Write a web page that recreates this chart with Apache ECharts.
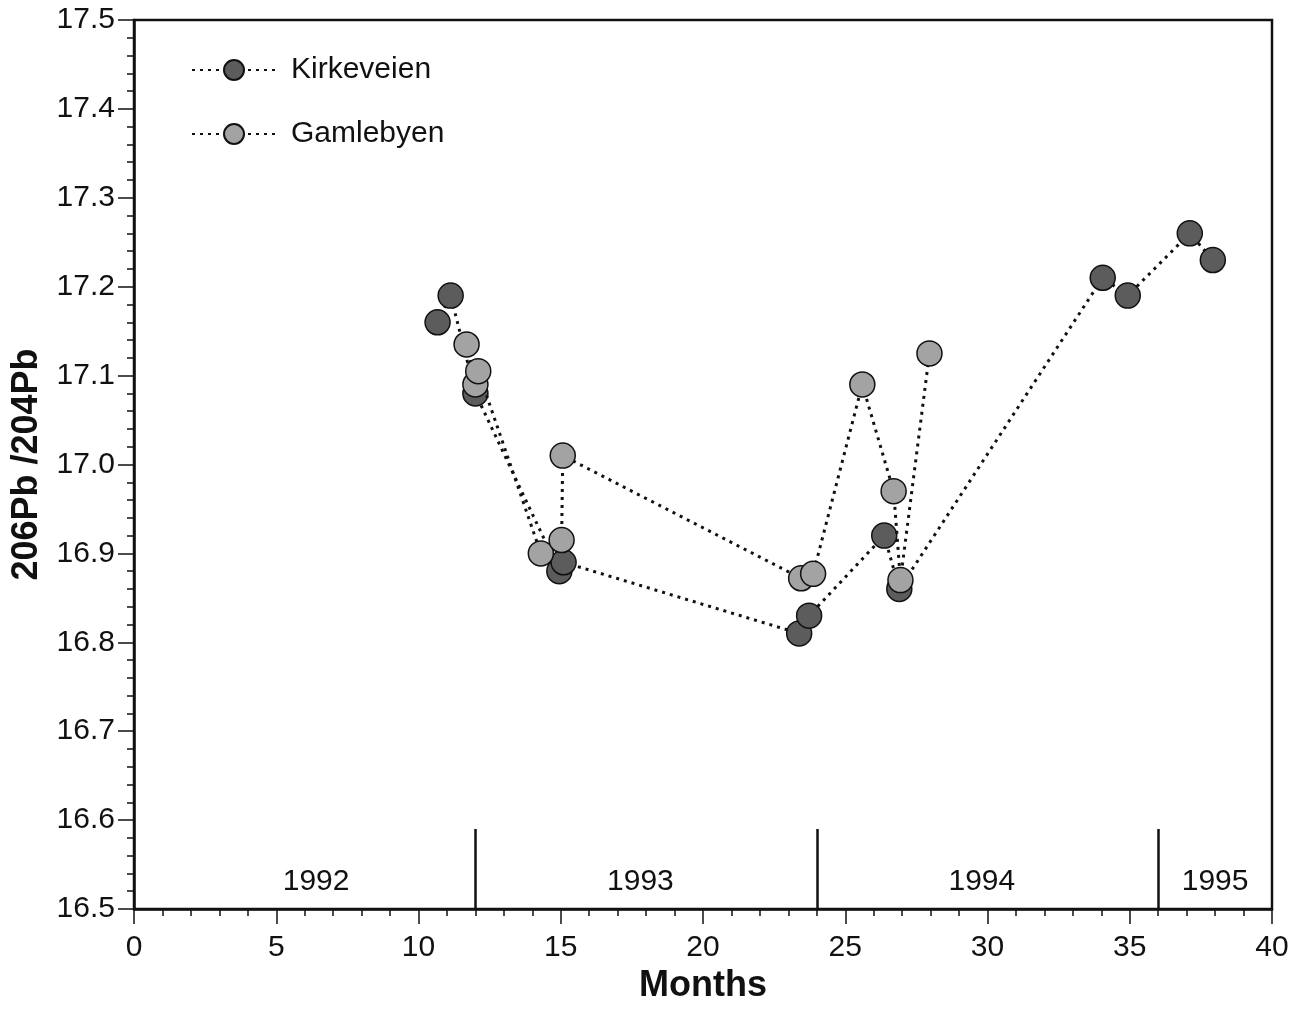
<!DOCTYPE html>
<html>
<head>
<meta charset="utf-8">
<script src="https://cdn.jsdelivr.net/npm/echarts@6/dist/echarts.min.js"></script>
<style>
  html, body { margin: 0; padding: 0; background: #fff; }
  #chart { width: 1298px; height: 1009px; }
</style>
</head>
<body>
<div id="chart"></div>
<script>
// ======================
// DATA
// ======================

const kirkeveienMonths = [10.67, 11.13, 12.0, 14.95, 15.1, 23.38, 23.73, 26.37, 26.9, 34.05, 34.93, 37.11, 37.92];
const kirkeveienRatio  = [17.16, 17.19, 17.08, 16.88, 16.89, 16.81, 16.83, 16.92, 16.86, 17.21, 17.19, 17.26, 17.23];

const gamlebyenMonths = [11.69, 12.0, 12.1, 14.3, 15.03, 15.07, 23.45, 23.87, 25.6, 26.7, 26.94, 27.96];
const gamlebyenRatio  = [17.135, 17.09, 17.105, 16.90, 16.915, 17.01, 16.872, 16.877, 17.09, 16.97, 16.87, 17.125];

const yearLabels    = ['1992', '1993', '1994', '1995'];
const yearLabelX    = [6.4, 17.8, 29.8, 38.0];
const yearDividers  = [12, 24, 36];

const FONT = 'Liberation Sans, Arial, Helvetica, sans-serif';

// ======================
// BUILD
// ======================

const zip = (xs, ys) => xs.map((x, i) => [x, ys[i]]);

const pointSeries = (name, xs, ys, fill) => ({
    name: name,
    type: 'line',
    data: zip(xs, ys),
    symbol: 'circle',
    symbolSize: 25,
    showSymbol: true,
    animation: false,
    itemStyle: { color: fill, borderColor: '#111', borderWidth: 1.5 },
    lineStyle: { color: '#111', width: 3, type: [3, 5] },
    z: name === 'Gamlebyen' ? 3 : 2
});

const chart = echarts.init(document.getElementById('chart'), null, { renderer: 'canvas' });

chart.setOption({
    backgroundColor: '#fff',
    animation: false,
    grid: {
        left: 134, top: 20, right: 26, bottom: 98,
        show: true, borderColor: '#111', borderWidth: 2.5
    },
    legend: {
        orient: 'vertical',
        left: 186, top: 50,
        itemWidth: 84, itemHeight: 25, itemGap: 34,
        data: ['Kirkeveien', 'Gamlebyen'],
        textStyle: { fontFamily: FONT, fontSize: 30, lineHeight: 25, color: '#111', padding: [0, 0, 0, 10] }
    },
    xAxis: {
        type: 'value',
        min: 0, max: 40, interval: 5,
        name: 'Months',
        nameLocation: 'middle',
        nameGap: 59,
        nameTextStyle: { fontFamily: FONT, fontSize: 36, fontWeight: 'bold', color: '#111' },
        axisLine: { lineStyle: { color: '#111', width: 2.5 } },
        axisTick: { length: 15, lineStyle: { color: '#111', width: 1.5 } },
        minorTick: { show: true, splitNumber: 5, length: 7, lineStyle: { color: '#111', width: 1.5 } },
        splitLine: { show: false },
        axisLabel: { fontFamily: FONT, fontSize: 30, color: '#111', margin: 24 }
    },
    yAxis: {
        type: 'value',
        min: 16.5, max: 17.5, interval: 0.1,
        name: '206Pb /204Pb',
        nameLocation: 'middle',
        nameGap: 89,
        nameTextStyle: { fontFamily: FONT, fontSize: 36, fontWeight: 'bold', color: '#111' },
        axisLine: { lineStyle: { color: '#111', width: 2.5 } },
        axisTick: { length: 16, lineStyle: { color: '#111', width: 1.5 } },
        minorTick: { show: true, splitNumber: 5, length: 7, lineStyle: { color: '#111', width: 1.5 } },
        splitLine: { show: false },
        axisLabel: {
            fontFamily: FONT, fontSize: 30, color: '#111', margin: 19,
            formatter: v => v.toFixed(1)
        }
    },
    series: [
        pointSeries('Kirkeveien', kirkeveienMonths, kirkeveienRatio, '#5c5c5c'),
        pointSeries('Gamlebyen', gamlebyenMonths, gamlebyenRatio, '#a3a3a3'),
        {
            name: 'years',
            type: 'scatter',
            symbolSize: 0,
            silent: true,
            itemStyle: { opacity: 1 },
            data: yearLabels.map((t, i) => ({ value: [yearLabelX[i], 16.531], name: t })),
            label: {
                show: true, position: 'inside',
                formatter: p => p.name,
                fontFamily: FONT, fontSize: 30, color: '#111'
            },
            markLine: {
                silent: true,
                symbol: 'none',
                label: { show: false },
                lineStyle: { color: '#111', width: 2.5, type: 'solid' },
                data: yearDividers.map(x => [{ coord: [x, 16.5] }, { coord: [x, 16.59] }])
            }
        }
    ]
});
</script>
</body>
</html>
